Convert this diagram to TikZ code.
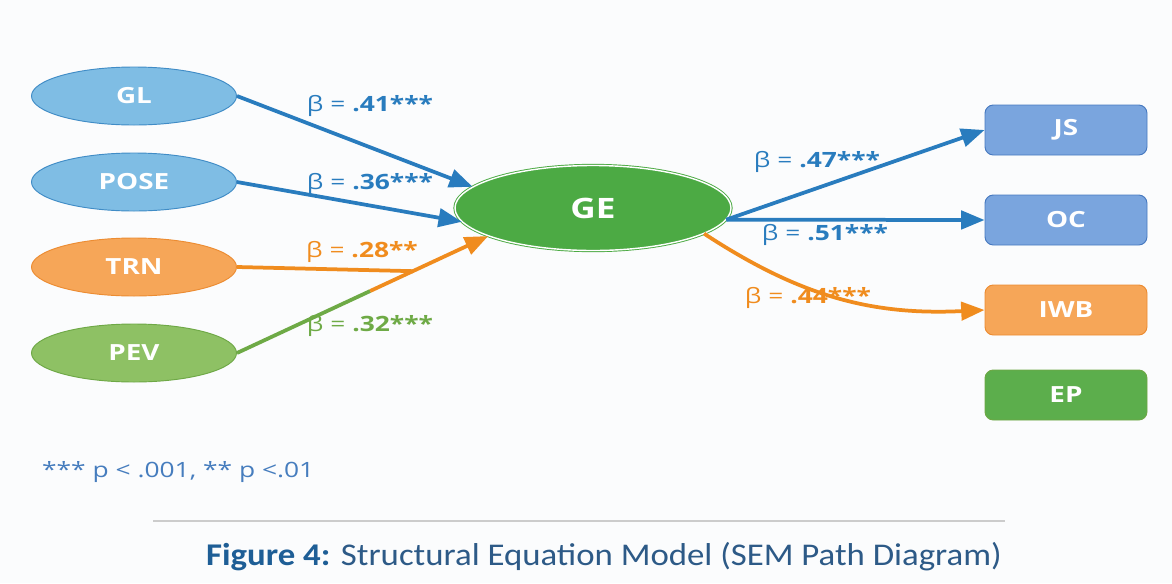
\documentclass[tikz,border=0pt]{standalone}
\usepackage{fontspec}
\setmainfont{Open Sans}[FakeStretch=1.25]
\newfontfamily\capfont{Carlito}[FakeStretch=1.1]
\usetikzlibrary{arrows.meta}
\usetikzlibrary{shapes.geometric, calc}
\definecolor{bgcol}{RGB}{251,252,253}
\definecolor{blueline}{RGB}{41,124,190}
\definecolor{bluefill}{RGB}{127,189,228}
\definecolor{blueedge}{RGB}{64,140,198}
\definecolor{boxblue}{RGB}{122,165,222}
\definecolor{boxedge}{RGB}{72,122,192}
\definecolor{orangeline}{RGB}{240,140,30}
\definecolor{orangefill}{RGB}{246,166,88}
\definecolor{orangeedge}{RGB}{236,140,50}
\definecolor{greenline}{RGB}{110,170,70}
\definecolor{greenfill}{RGB}{142,193,100}
\definecolor{greenedge}{RGB}{110,168,70}
\definecolor{gefill}{RGB}{76,170,68}
\definecolor{epfill}{RGB}{92,174,76}
\definecolor{noteblue}{RGB}{70,125,190}
\definecolor{capblue}{RGB}{30,94,150}
\definecolor{captext}{RGB}{45,90,135}

\tikzset{
  latent/.style={ellipse, minimum width=6.15cm, minimum height=1.74cm, line width=0.8pt,
    text=white, font=\bfseries\fontsize{19}{19}\selectfont},
  outcome/.style={rectangle, rounded corners=0.25cm, minimum width=4.86cm, minimum height=1.5cm,
    line width=0.8pt, text=white, font=\bfseries\fontsize{19}{19}\selectfont},
  link/.style={line width=3.2pt, -{Triangle[length=0.7cm,width=0.55cm]}},
  coef/.style={font=\fontsize{18}{18}\selectfont}
}

\begin{document}
\begin{tikzpicture}[x=0.03cm, y=-0.03cm]
  \useasboundingbox[fill=bgcol] (0,0) rectangle (1172,583);

%predictors:
  \node[latent, fill=bluefill, draw=blueedge] (gl) at (134,96) {GL};
  \node[latent, fill=bluefill, draw=blueedge] (pose) at (134,182) {POSE};
  \node[latent, fill=orangefill, draw=orangeedge] (trn) at (134,267) {TRN};
  \node[latent, fill=greenfill, draw=greenedge] (pev) at (134,353) {PEV};

%mediator:
  \node[ellipse, minimum width=8.28cm, minimum height=2.55cm, fill=gefill, draw=gefill,
    double=white, double distance=1.2pt, line width=0.8pt, text=white,
    font=\bfseries\fontsize{24}{24}\selectfont] (ge) at (593,208) {GE};

%outcomes:
  \node[outcome, fill=boxblue, draw=boxedge] (js) at (1066,130) {JS};
  \node[outcome, fill=boxblue, draw=boxedge] (oc) at (1066,220) {OC};
  \node[outcome, fill=orangefill, draw=orangeedge] (iwb) at (1066,310) {IWB};
  \node[outcome, fill=epfill, draw=greenedge] (ep) at (1066,395) {EP};
%%%%%%

  \draw[link, color=blueline] (gl.east) -- (ge.170);
  \draw[link, color=blueline] (pose.east) -- (ge.186);
  \coordinate (mix) at ($(pev.east)!0.53!(ge.195)$);
  \coordinate (join) at ($(pev.east)!0.7!(ge.195)$);
  \draw[line width=3.2pt, color=greenline] (pev.east) -- (mix);
  \draw[link, color=orangeline] (mix) -- (ge.195);
  \draw[line width=3.2pt, color=orangeline] (trn.east) -- (join);

  \draw[link, color=blueline] (ge.-5) -- (js.west);
  \draw[link, color=blueline] (ge.-5) -- (oc.west);
  \draw[link, color=orangeline] (ge.-13) to[bend right=18] (iwb.west);

  \node[coef, text=blueline] (b41) at (370,106) {β = \textbf{.41***}};
  \node[coef, text=blueline] (b36) at (370,184) {β = \textbf{.36***}};
  \node[coef, text=orangeline] (b28) at (362,252) {β = \textbf{.28**}};
  \node[coef, text=greenline] (b32) at (370,326) {β = \textbf{.32***}};
  \node[coef, text=blueline] (b47) at (817,162) {β = \textbf{.47***}};
  \node[coef, text=blueline] (b51) at (825,235) {β = \textbf{.51***}};
  \node[coef, text=orangeline] (b44) at (808,298) {β = \textbf{.44***}};

  \node[anchor=west, text=noteblue, font=\fontsize{18}{18}\selectfont] (note) at (38,472)
    {*** p < .001, ** p <.01};

  \coordinate (rulel) at (153,521);
  \coordinate (ruler) at (1005,521);
  \draw[gray!40, line width=1pt] (rulel) -- (ruler);
  \node[text=captext, font=\capfont\fontsize{27}{27}\selectfont] (cap) at (604,557)
    {\textcolor{capblue}{\bfseries Figure 4:} Structural Equation Model (SEM Path Diagram)};
\end{tikzpicture}
\end{document}
